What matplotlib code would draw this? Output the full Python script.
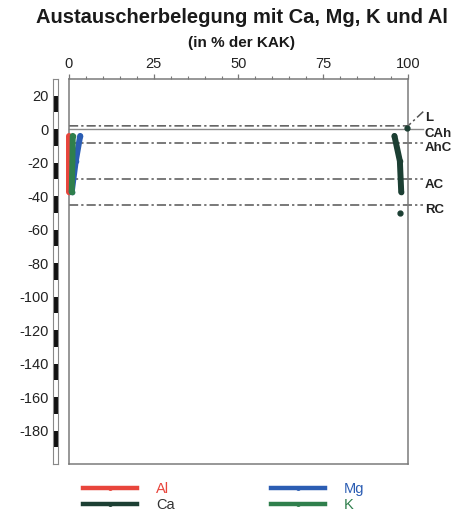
import numpy as np
import matplotlib
matplotlib.use("Agg")
import matplotlib.pyplot as plt
from matplotlib.lines import Line2D

plt.rcParams["font.family"] = ["Liberation Sans", "DejaVu Sans"]
plt.rcParams["axes.unicode_minus"] = False

# Sample depths (cm, relative to the mineral soil surface)
depth = [1.0, -4.0, -19.0, -37.5, -50.0]
# Exchangeable cations in % of the effective CEC (NaN = not measured)
al = [np.nan, 0.0, 0.0, 0.0, np.nan]
ca = [99.6, 96.0, 97.6, 98.0, 97.6]
mg = [np.nan, 3.3, 2.0, 0.8, np.nan]
k = [np.nan, 1.1, 1.0, 0.8, np.nan]
# Samples joined into the profile line
connected = [False, True, True, True, False]

# Horizon upper boundaries and names
horizon_names = ["L", "CAh", "AhC", "AC", "RC"]
horizon_tops = [2.0, 0.0, -8.0, -30.0, -45.0]

x_ticks = [0, 25, 50, 75, 100]
y_ticks = [20, 0, -20, -40, -60, -80, -100, -120, -140, -160, -180]

colors = {"Al": "#e8453c", "Ca": "#1c3f33", "Mg": "#2b5db3", "K": "#2f7f4c"}

W, H = 460, 516
fig = plt.figure(figsize=(W / 100, H / 100), dpi=100)
left, right, top, bottom = 69, 408, 79, 464
ax = fig.add_axes([left / W, 1 - bottom / H, (right - left) / W, (bottom - top) / H])
ax_r = fig.add_axes([53 / W, 1 - bottom / H, 5.5 / W, (bottom - top) / H], sharey=ax)

ax.set_xlim(0, 100)
ax.set_ylim(-200, 30)

# top x axis
ax.xaxis.tick_top()
ax.set_xticks(x_ticks)
ax.set_xticks(np.arange(0, 101, 5), minor=True)
ax.tick_params(axis="x", which="major", direction="out", length=3.5, width=0.9,
               color="#777777", labelsize=10.5, pad=2, labelcolor="#222222")
ax.tick_params(axis="x", which="minor", direction="out", length=2, width=0.8,
               color="#777777")
ax.tick_params(axis="y", left=False, labelleft=False, right=False)
for s in ax.spines.values():
    s.set_color("#7a7a7a")
    s.set_linewidth(1.1)

# depth ruler with alternating 10 cm segments
for y0 in range(30, -200, -10):
    c = "#111111" if y0 % 20 == 0 else "white"
    ax_r.axhspan(y0 - 10, y0, color=c, lw=0)
ax_r.set_xlim(0, 1)
ax_r.set_xticks([])
ax_r.set_yticks(y_ticks)
ax_r.tick_params(axis="y", length=0, pad=3, labelsize=10.5, labelcolor="#222222")
for s in ax_r.spines.values():
    s.set_color("#888888")
    s.set_linewidth(0.8)

# horizon boundaries
x_end = 104.5
lab_kw = dict(fontsize=9.5, fontweight="bold", color="#222222", va="center",
              ha="left", clip_on=False)
for name, yb in zip(horizon_names, horizon_tops):
    if yb == 0:
        ax.plot([0, x_end], [yb, yb], color="#8a8a8a", lw=1.0, clip_on=False, zorder=1)
        ax.text(x_end + 0.5, yb - 3.0, name, **lab_kw)
    elif name == "L":
        ax.plot([0, 100, x_end], [yb, yb, yb + 8.5], color="#555555", lw=1.1,
                ls=(0, (6, 2, 1.5, 2)), clip_on=False, zorder=1)
        ax.text(x_end + 0.5, yb + 4.5, name, **lab_kw)
    else:
        ax.plot([0, x_end], [yb, yb], color="#555555", lw=1.1,
                ls=(0, (6, 2, 1.5, 2)), clip_on=False, zorder=1)
        ax.text(x_end + 0.5, yb - 3.5, name, **lab_kw)

# cation profiles (K drawn over Mg and Al)
d = np.array(depth)
mask = np.array(connected)
series = [("Al", al), ("Mg", mg), ("K", k), ("Ca", ca)]
for name, vals in series:
    v = np.array(vals, dtype=float)
    ax.plot(v[mask], d[mask], color=colors[name], lw=4.3, solid_capstyle="round",
            marker="o", ms=3, clip_on=False, zorder=3)
    ax.plot(v[~mask], d[~mask], ls="none", color=colors[name], marker="o", ms=3.5,
            clip_on=False, zorder=3)

# titles
fig.text(242 / W, 1 - 17 / H, "Austauscherbelegung mit Ca, Mg, K und Al",
         fontsize=14.5, fontweight="bold", ha="center", va="center", color="#1a1a1a")
fig.text(242 / W, 1 - 43 / H, "(in % der KAK)", fontsize=11, fontweight="bold",
         ha="center", va="center", color="#1a1a1a")

# legend
handles = [Line2D([], [], color=colors[n], lw=3.2, marker="o", ms=2.5) for n in ["Al", "Ca", "Mg", "K"]]
leg = fig.legend(handles, ["Al", "Ca", "Mg", "K"], ncol=2, loc="upper left",
                 bbox_to_anchor=(83 / W, 1 - 482 / H), frameon=False, fontsize=10.5,
                 handlelength=3.7, handletextpad=1.3, columnspacing=6.6,
                 labelspacing=0.15, borderpad=0, borderaxespad=0, numpoints=1)
for t, n in zip(leg.get_texts(), ["Al", "Ca", "Mg", "K"]):
    t.set_color(colors[n] if n != "Ca" else "#333333")

fig.savefig("out.png", dpi=100)
